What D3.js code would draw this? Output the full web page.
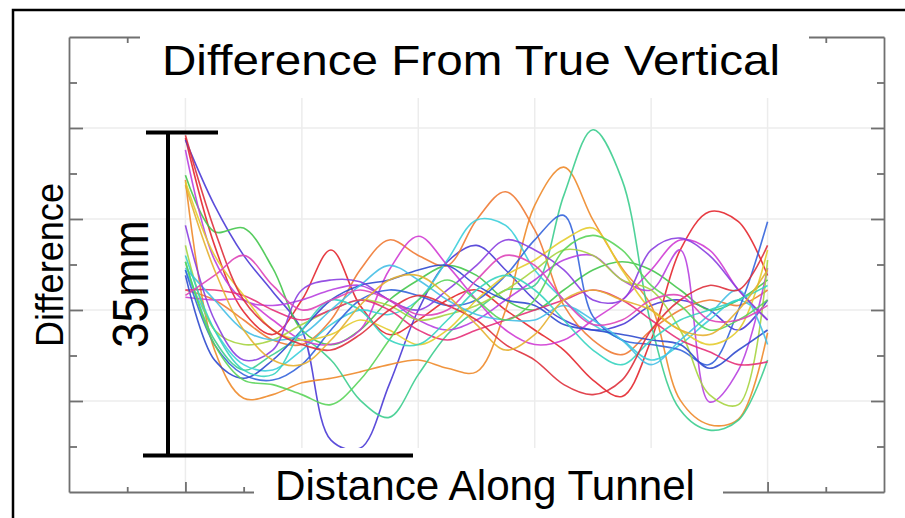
<!DOCTYPE html>
<html>
<head>
<meta charset="utf-8">
<script src="https://cdn.jsdelivr.net/npm/d3@7"></script>
<style>
  body { margin: 0; background: #fff; }
  svg { display: block; font-family: "Liberation Sans", Arial, sans-serif; }
</style>
</head>
<body>
<div id="container"></div>
<script>
(function() {

// distance along tunnel (sample positions)
let distance = [0, 5, 10, 15, 20, 25, 30, 35, 40, 45, 50, 55, 60, 65, 70, 75, 80, 85, 90, 95, 100];

// difference readings (mm), one array per survey run
let run01 = [38.9, 27.1, 19.8, 17.3, 21.1, 26.6, 20.5, 17.3, 18.9, 21.1, 22.2, 20.0, 17.8, 15.6, 12.3, 10.5, 16.7, 26.6, 30.8, 29.7, 23.8];
let run02 = [38.7, 31.5, 26.0, 22.0, 17.8, 5.7, 4.8, 11.8, 20.0, 25.3, 27.1, 24.4, 21.1, 18.9, 17.8, 18.4, 20.5, 21.1, 20.0, 17.8, 21.1];
let run03 = [34.8, 28.6, 29.0, 24.6, 17.8, 16.2, 17.8, 21.1, 23.3, 24.9, 23.8, 21.1, 20.0, 22.2, 24.4, 25.3, 24.4, 22.2, 20.0, 21.1, 23.3];
let run04 = [34.3, 15.6, 10.3, 10.7, 12.0, 12.5, 13.2, 14.0, 14.5, 13.6, 13.2, 20.0, 31.5, 35.7, 29.9, 24.6, 20.5, 10.1, 7.4, 8.0, 17.5];
let run05 = [22.2, 21.1, 18.9, 16.7, 16.2, 18.9, 24.4, 27.7, 26.0, 24.9, 29.9, 33.0, 28.8, 20.5, 16.7, 15.1, 17.8, 20.0, 21.1, 20.5, 22.2];
let run06 = [25.3, 16.7, 13.4, 15.1, 16.7, 14.5, 10.1, 8.2, 12.9, 17.3, 20.0, 22.2, 22.7, 32.6, 39.8, 34.3, 18.4, 9.0, 6.8, 7.9, 14.5];
let run07 = [24.4, 17.8, 14.0, 13.4, 15.6, 18.4, 20.0, 19.5, 21.1, 25.5, 29.9, 29.3, 24.4, 21.1, 18.4, 16.7, 14.5, 16.2, 18.9, 21.1, 18.9];
let run08 = [21.4, 21.1, 21.1, 18.9, 16.7, 16.2, 17.8, 24.4, 28.1, 24.9, 21.1, 17.8, 16.2, 16.7, 18.9, 21.1, 24.4, 27.7, 26.6, 22.2, 18.9];
let run09 = [24.4, 16.2, 12.9, 12.3, 14.0, 17.8, 21.1, 22.2, 21.6, 20.5, 21.1, 23.8, 27.7, 30.4, 19.3, 16.7, 16.2, 15.6, 14.0, 20.0, 29.7];
let run10 = [37.6, 25.5, 21.1, 20.5, 21.1, 22.2, 22.7, 21.1, 18.9, 17.8, 18.9, 21.1, 23.3, 25.5, 26.0, 23.3, 22.2, 26.6, 9.9, 13.4, 24.6];
let run11 = [27.1, 17.8, 16.2, 16.7, 18.4, 20.0, 21.1, 20.5, 18.9, 19.5, 20.5, 22.2, 24.4, 26.6, 26.0, 23.3, 22.2, 17.8, 10.7, 9.6, 25.5];
let run12 = [22.2, 22.2, 21.6, 20.0, 18.9, 20.0, 21.1, 20.0, 17.8, 16.7, 17.8, 18.9, 20.0, 21.1, 22.2, 21.1, 18.9, 16.7, 15.4, 14.0, 14.3];
let run13 = [34.1, 26.0, 21.6, 17.8, 16.7, 17.3, 18.9, 17.8, 16.2, 17.8, 21.1, 23.8, 25.5, 27.7, 29.0, 24.4, 20.0, 17.8, 16.2, 17.8, 26.6];
let run14 = [23.8, 14.5, 12.5, 14.5, 17.8, 21.1, 22.7, 23.3, 24.4, 24.9, 22.7, 21.1, 20.5, 18.4, 17.8, 17.3, 16.7, 16.2, 13.6, 15.6, 17.8];
let run15 = [24.6, 21.1, 17.8, 16.7, 17.3, 20.0, 22.7, 24.9, 23.3, 21.1, 19.5, 18.9, 18.9, 20.5, 18.9, 16.7, 14.0, 16.7, 19.5, 22.2, 16.2];
let run16 = [29.3, 18.9, 14.5, 15.6, 22.2, 23.3, 23.1, 21.1, 20.0, 22.2, 24.9, 27.7, 26.6, 24.4, 21.1, 21.1, 26.6, 27.9, 26.0, 22.2, 18.9];
let run17 = [25.3, 16.2, 12.3, 11.8, 10.7, 9.6, 12.3, 16.7, 21.1, 23.3, 21.1, 18.9, 21.1, 26.6, 28.2, 26.6, 22.7, 20.5, 17.8, 18.9, 21.1];
let run18 = [26.0, 17.8, 13.4, 12.9, 17.8, 21.1, 20.0, 16.7, 16.2, 18.9, 22.2, 23.8, 22.2, 18.9, 15.6, 14.0, 16.7, 18.9, 20.0, 21.1, 22.7];
let run19 = [39.2, 28.8, 21.1, 17.8, 16.2, 15.6, 17.3, 20.0, 21.6, 20.5, 18.9, 16.2, 14.5, 11.8, 10.7, 12.3, 17.8, 21.1, 22.7, 22.2, 27.1];
let run20 = [21.6, 23.8, 26.0, 22.7, 20.0, 21.1, 22.2, 21.1, 19.5, 20.0, 23.3, 26.0, 24.9, 21.1, 18.4, 18.9, 21.1, 21.6, 18.9, 18.9, 20.5];
let run21 = [33.7, 24.4, 17.8, 14.5, 14.0, 16.7, 20.5, 23.3, 23.8, 21.6, 18.4, 15.6, 17.3, 21.1, 22.2, 21.1, 20.0, 17.8, 17.3, 20.0, 24.4];

let runColors = ["#e4262e", "#4a3ad6", "#44c64c", "#ee8a2a", "#ef7a34", "#3ccd8e", "#3ccfdc",
                 "#d03cd4", "#3464dc", "#b840e0", "#a6d440", "#e63078", "#e4cc2e", "#2f4ace",
                 "#45bfe6", "#8a3ee0", "#5ad45a", "#36d4c0", "#de303c", "#de44b8", "#e6b030"];

// ticks
let xMajorTicks = [0, 20, 40, 60, 80, 100];
let xMinorTicks = [-10, 10, 30, 50, 70, 90, 110];
let yMajorTicks = [10, 20, 30, 40];
let yMinorTicks = [5, 15, 25, 35, 45];

let titleText = "Difference From True Vertical";
let xLabel = "Distance Along Tunnel";
let yLabel = "Difference";
let spanLabel = "35mm";
let spanFrom = 4.0;   // annotation bar, mm
let spanTo = 39.5;

buildChart("#container");

function buildChart(selector) {
  let width = 905;
  let height = 518;
  let left = 69, right = 884, top = 37, bottom = 492;

  let svg = d3.select(selector)
    .append("svg")
      .attr("width", width)
      .attr("height", height);

  let x = d3.scaleLinear().domain([-20, 120]).range([left, right]);
  let y = d3.scaleLinear().domain([0, 50]).range([bottom, top]);

  // light grid
  let grid = svg.append("g").attr("stroke", "#ececec").attr("stroke-width", 1.5);
  grid.selectAll(".gx").data(xMajorTicks).enter().append("line")
    .attr("x1", (d) => x(d)).attr("x2", (d) => x(d))
    .attr("y1", top).attr("y2", bottom);
  grid.selectAll(".gy").data(yMajorTicks).enter().append("line")
    .attr("y1", (d) => y(d)).attr("y2", (d) => y(d))
    .attr("x1", left).attr("x2", right);

  // axes box, ticks pointing inward
  function axisStyle(g, keepDomain) {
    g.selectAll("text").remove();
    if (!keepDomain) g.select(".domain").remove();
    g.selectAll("path, line").attr("stroke", "#707070").attr("stroke-width", 1.8);
  }
  svg.append("g").attr("transform", "translate(" + left + ",0)")
    .call(d3.axisRight(y).tickValues(yMajorTicks).tickSize(14).tickSizeOuter(0))
    .call((g) => axisStyle(g, true));
  svg.append("g").attr("transform", "translate(" + left + ",0)")
    .call(d3.axisRight(y).tickValues(yMinorTicks).tickSize(8))
    .call((g) => axisStyle(g, false));
  svg.append("g").attr("transform", "translate(" + right + ",0)")
    .call(d3.axisLeft(y).tickValues(yMajorTicks).tickSize(13).tickSizeOuter(0))
    .call((g) => axisStyle(g, true));
  svg.append("g").attr("transform", "translate(" + right + ",0)")
    .call(d3.axisLeft(y).tickValues(yMinorTicks).tickSize(7))
    .call((g) => axisStyle(g, false));
  svg.append("g").attr("transform", "translate(0," + bottom + ")")
    .call(d3.axisTop(x).tickValues(xMajorTicks).tickSize(10).tickSizeOuter(0))
    .call((g) => axisStyle(g, true));
  svg.append("g").attr("transform", "translate(0," + bottom + ")")
    .call(d3.axisTop(x).tickValues(xMinorTicks).tickSize(5))
    .call((g) => axisStyle(g, false));
  svg.append("g").attr("transform", "translate(0," + top + ")")
    .call(d3.axisBottom(x).tickValues(xMinorTicks).tickSize(6).tickSizeOuter(0))
    .call((g) => axisStyle(g, true));

  // the runs
  let runs = [run01, run02, run03, run04, run05, run06, run07, run08, run09, run10, run11,
              run12, run13, run14, run15, run16, run17, run18, run19, run20, run21];
  let line = d3.line()
    .x((d, i) => x(distance[i]))
    .y((d) => y(d))
    .curve(d3.curveCatmullRom.alpha(0.5));
  svg.append("g")
    .selectAll(".run")
    .data(runs)
    .enter()
    .append("path")
      .attr("fill", "none")
      .attr("stroke", (d, i) => runColors[i])
      .attr("stroke-width", 1.6)
      .attr("stroke-opacity", 0.9)
      .attr("d", line);

  // pasted-over label patches
  svg.append("rect").attr("x", 140).attr("y", 14).attr("width", 669).attr("height", 84).attr("fill", "#fff");
  svg.append("rect").attr("x", 254).attr("y", 448).attr("width", 469).attr("height", 70).attr("fill", "#fff");

  // outer frame
  svg.append("path")
    .attr("d", "M13," + height + "V10H" + width)
    .attr("fill", "none").attr("stroke", "#000").attr("stroke-width", 2.5);

  // texts
  svg.append("text")
    .attr("x", 162).attr("y", 75)
    .attr("font-size", 42)
    .attr("textLength", 618).attr("lengthAdjust", "spacingAndGlyphs")
    .text(titleText);
  svg.append("text")
    .attr("x", 275).attr("y", 500)
    .attr("font-size", 42)
    .attr("textLength", 420).attr("lengthAdjust", "spacingAndGlyphs")
    .text(xLabel);
  svg.append("text")
    .attr("transform", "translate(63,347) rotate(-90)")
    .attr("font-size", 39)
    .attr("textLength", 164).attr("lengthAdjust", "spacingAndGlyphs")
    .text(yLabel);
  svg.append("text")
    .attr("transform", "translate(148,348) rotate(-90)")
    .attr("font-size", 50)
    .attr("textLength", 128).attr("lengthAdjust", "spacingAndGlyphs")
    .text(spanLabel);

  // 35mm span bar
  let bar = svg.append("g").attr("stroke", "#000").attr("stroke-width", 4);
  bar.append("line").attr("x1", 168).attr("x2", 168).attr("y1", y(spanTo)).attr("y2", y(spanFrom));
  bar.append("line").attr("x1", 146).attr("x2", 218).attr("y1", y(spanTo)).attr("y2", y(spanTo));
  bar.append("line").attr("x1", 143).attr("x2", 413).attr("y1", y(spanFrom)).attr("y2", y(spanFrom));
}

})();
</script>
</body>
</html>
